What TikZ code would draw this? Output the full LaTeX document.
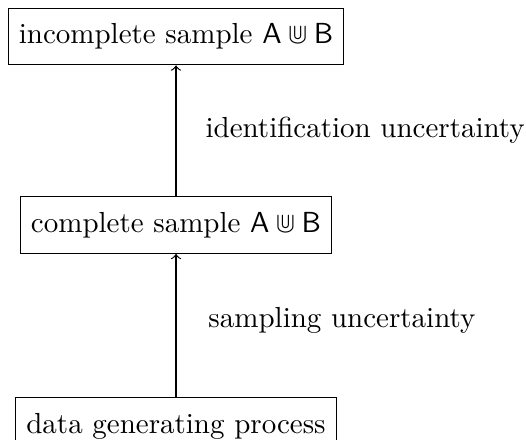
\documentclass[tikz,border=0pt]{standalone}
\usepackage{amssymb}
\begin{document}
\begin{tikzpicture}[x=1pt,y=1pt,
  box/.style={draw, inner xsep=3.7pt, inner ysep=5.3pt},
  lbl/.style={anchor=west, inner sep=0pt},
  conn/.style={->}]
\useasboundingbox (0,0) rectangle (181.4,-151.4);
\node[box] (inc) at (60.7,-12.6) {incomplete sample $\mathsf{A}\Cup\mathsf{B}$};
\node[box] (com) at (60.7,-77.6) {complete sample $\mathsf{A}\Cup\mathsf{B}$};
\node[box, anchor=north] (dgp) at (60.7,-136.9) {data generating process};
\draw[conn] (com) -- (inc);
\draw[conn] (dgp) -- (com);
\node[lbl] (l1) at (70.7,-44.8) {identification uncertainty};
\node[lbl] (l2) at (71.7,-110.6) {sampling uncertainty};
\end{tikzpicture}
\end{document}
